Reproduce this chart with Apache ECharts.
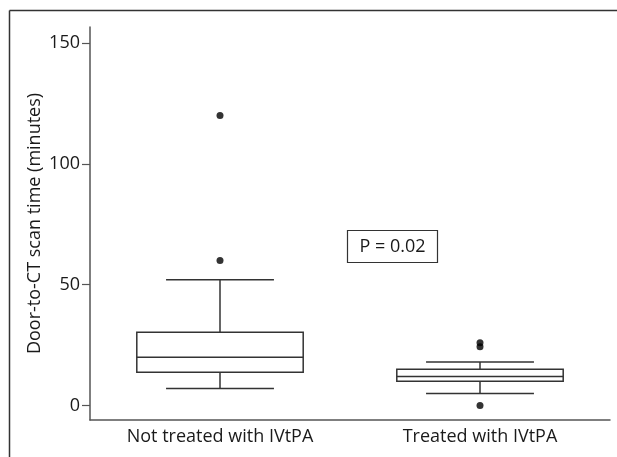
<!DOCTYPE html>
<html>
<head>
<meta charset="utf-8">
<script src="https://cdn.jsdelivr.net/npm/echarts@6/dist/echarts.min.js"></script>
<style>html,body{margin:0;padding:0;background:#fff}#c{width:617px;height:457px}</style>
</head>
<body>
<div id="c"></div>
<script>
var categories = ['Not treated with IVtPA', 'Treated with IVtPA'];
// [min whisker, Q1, median, Q3, max whisker]
var lowWhisker = [7, 5];
var q1 = [13.8, 10];
var median = [20, 12];
var q3 = [30.3, 15];
var highWhisker = [52, 18];
var outliers = [[0, 60], [0, 120], [1, 24.3], [1, 26], [1, 0]];
var yTicks = [0, 50, 100, 150];
var pText = 'P = 0.02';

var boxData = categories.map(function (c, i) {
  return [i, lowWhisker[i], q1[i], median[i], q3[i], highWhisker[i]];
});

var FONT = 'Open Sans';
var LINE = '#333';

var chart = echarts.init(document.getElementById('c'), null, {renderer: 'canvas'});
chart.setOption({
  animation: false,
  backgroundColor: '#fff',
  grid: {left: 90, right: 7, top: 27, bottom: 37},
  xAxis: {
    type: 'category',
    data: categories,
    axisLine: {onZero: false, lineStyle: {color: '#555', width: 1.5}},
    axisTick: {show: false},
    axisLabel: {color: '#1a1a1a', fontFamily: FONT, fontSize: 18, margin: 8},
    splitLine: {show: false}
  },
  yAxis: {
    type: 'value',
    min: -6,
    max: 156.6,
    name: 'Door-to-CT scan time (minutes)',
    nameLocation: 'middle',
    nameGap: 46,
    nameMoveOverlap: false,
    nameTextStyle: {color: '#1a1a1a', fontFamily: FONT, fontSize: 18},
    axisLine: {show: true, onZero: false, lineStyle: {color: '#555', width: 1.5}},
    axisTick: {show: true, inside: false, length: 8, customValues: yTicks, lineStyle: {color: '#555', width: 1.2}},
    axisLabel: {color: '#1a1a1a', fontFamily: FONT, fontSize: 18, margin: 10, customValues: yTicks},
    splitLine: {show: false}
  },
  graphic: [
    {type: 'line', shape: {x1: 9.5, y1: 10.5, x2: 617, y2: 10.5}, style: {stroke: '#333', lineWidth: 1.5}},
    {type: 'line', shape: {x1: 9.5, y1: 10.5, x2: 9.5, y2: 457}, style: {stroke: '#333', lineWidth: 1.5}},
    {type: 'rect', shape: {x: 347.5, y: 230.5, width: 90, height: 32}, style: {fill: '#fff', stroke: '#333', lineWidth: 1.2}},
    {type: 'text', x: 392.5, y: 247, style: {text: pText, fill: '#1a1a1a', font: '18px "Open Sans"', align: 'center', verticalAlign: 'middle'}}
  ],
  series: [
    {
      type: 'custom',
      data: boxData,
      encode: {x: 0, y: [1, 2, 3, 4, 5]},
      renderItem: function (params, api) {
        var idx = api.value(0);
        var band = api.size([1, 0])[0];
        var boxW = band * 0.64;
        var capW = band * 0.415;
        var pLo = api.coord([idx, api.value(1)]);
        var pQ1 = api.coord([idx, api.value(2)]);
        var pMed = api.coord([idx, api.value(3)]);
        var pQ3 = api.coord([idx, api.value(4)]);
        var pHi = api.coord([idx, api.value(5)]);
        var cx = pMed[0];
        var st = {stroke: LINE, lineWidth: 1.5, fill: null};
        return {
          type: 'group',
          children: [
            {type: 'line', shape: {x1: cx, y1: pHi[1], x2: cx, y2: pQ3[1]}, style: st},
            {type: 'line', shape: {x1: cx, y1: pQ1[1], x2: cx, y2: pLo[1]}, style: st},
            {type: 'line', shape: {x1: cx - capW / 2, y1: pHi[1], x2: cx + capW / 2, y2: pHi[1]}, style: st},
            {type: 'line', shape: {x1: cx - capW / 2, y1: pLo[1], x2: cx + capW / 2, y2: pLo[1]}, style: st},
            {type: 'rect', shape: {x: cx - boxW / 2, y: pQ3[1], width: boxW, height: pQ1[1] - pQ3[1]}, style: {stroke: LINE, lineWidth: 1.5, fill: '#fff'}},
            {type: 'line', shape: {x1: cx - boxW / 2, y1: pMed[1], x2: cx + boxW / 2, y2: pMed[1]}, style: st}
          ]
        };
      },
      z: 2
    },
    {
      type: 'scatter',
      data: outliers,
      symbol: 'circle',
      symbolSize: 7,
      itemStyle: {color: '#000'},
      z: 3
    }
  ]
});
</script>
</body>
</html>
